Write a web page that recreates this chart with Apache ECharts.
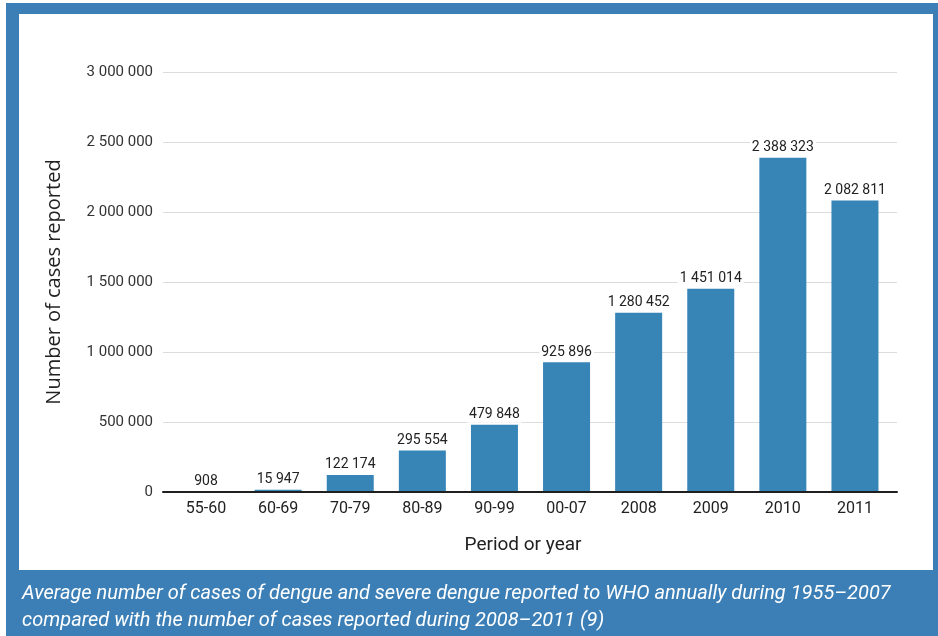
<!DOCTYPE html>
<html>
<head>
<meta charset="utf-8">
<script src="https://cdn.jsdelivr.net/npm/echarts@6/dist/echarts.min.js"></script>
<style>
  html, body { margin: 0; padding: 0; background: #ffffff; }
  #chart { width: 938px; height: 636px; }
</style>
</head>
<body>
<div id="chart"></div>
<script>
// Reported dengue cases: period averages (1955–2007) and yearly totals (2008–2011)
const categories = ['55-60', '60-69', '70-79', '80-89', '90-99', '00-07', '2008', '2009', '2010', '2011'];
const cases = [908, 15947, 122174, 295554, 479848, 925896, 1280452, 1451014, 2388323, 2082811];
const yTicks = { min: 0, max: 3000000, interval: 500000 };

const captionLines = [
  'Average number of cases of dengue and severe dengue reported to WHO annually during 1955\u20132007',
  'compared with the number of cases reported during 2008\u20132011 (9)'
];

// group digits with spaces: 2388323 -> "2 388 323"
function spaced(v) {
  return String(Math.round(v)).replace(/\B(?=(\d{3})+(?!\d))/g, ' ');
}

const FRAME_BLUE = '#3b7fb6';
const BAR_BLUE = '#3784b7';
const TOP = 72, BOTTOM = 144;

const chart = echarts.init(document.getElementById('chart'), null, { renderer: 'canvas' });

chart.setOption({
  backgroundColor: 'transparent',
  animation: false,
  grid: [
    // grid used for the value scale, gridlines and baseline
    { left: 163, right: 41, top: TOP, bottom: BOTTOM },
    // grid holding the bars and category labels
    { left: 170, right: 47, top: TOP, bottom: BOTTOM }
  ],
  xAxis: [
    {
      gridIndex: 0, type: 'category', data: categories, z: 10,
      axisLine: { show: true, lineStyle: { color: '#1f1f1f', width: 2 } },
      axisTick: { show: false }, axisLabel: { show: false }, splitLine: { show: false }
    },
    {
      gridIndex: 1, type: 'category', data: categories,
      axisLine: { show: false }, axisTick: { show: false },
      axisLabel: { margin: 9, fontSize: 16, fontFamily: 'Roboto', color: '#222' }
    }
  ],
  yAxis: [
    {
      gridIndex: 0, type: 'value', min: yTicks.min, max: yTicks.max, interval: yTicks.interval,
      axisLine: { show: false }, axisTick: { show: false },
      axisLabel: { margin: 10, fontSize: 15, fontFamily: 'Roboto', color: '#333', formatter: spaced },
      splitLine: { lineStyle: { color: '#dcdcdc', width: 1 } },
      name: 'Number of cases reported', nameLocation: 'middle', nameRotate: 90, nameGap: 99,
      nameTextStyle: { fontSize: 20, fontFamily: 'Open Sans', color: '#222' }
    },
    {
      gridIndex: 1, type: 'value', min: yTicks.min, max: yTicks.max, interval: yTicks.interval,
      show: false
    }
  ],
  series: [{
    type: 'bar',
    xAxisIndex: 1, yAxisIndex: 1,
    data: cases,
    barWidth: 47,
    itemStyle: { color: BAR_BLUE },
    label: {
      show: true, position: 'top', distance: 2,
      fontSize: 14, fontFamily: 'Roboto', color: '#222',
      backgroundColor: '#ffffff', padding: [1, 2],
      formatter: p => spaced(p.value)
    }
  }],
  graphic: [
    { type: 'rect', z: -10, shape: { x: 6, y: 3, width: 932, height: 633 }, style: { fill: FRAME_BLUE } },
    { type: 'rect', z: -9, shape: { x: 19, y: 14, width: 914, height: 556 }, style: { fill: '#ffffff' } },
    {
      type: 'text', x: 523, y: 545,
      style: { text: 'Period or year', fontSize: 19, fontFamily: 'Roboto', fill: '#222',
               textAlign: 'center', textVerticalAlign: 'middle' }
    },
    {
      type: 'text', x: 22, y: 594,
      style: { text: captionLines[0], fontSize: 20, fontStyle: 'italic', fontFamily: 'Roboto',
               fill: '#ffffff', textAlign: 'left', textVerticalAlign: 'middle' }
    },
    {
      type: 'text', x: 22, y: 621,
      style: { text: captionLines[1], fontSize: 20, fontStyle: 'italic', fontFamily: 'Roboto',
               fill: '#ffffff', textAlign: 'left', textVerticalAlign: 'middle' }
    }
  ]
});
</script>
</body>
</html>
